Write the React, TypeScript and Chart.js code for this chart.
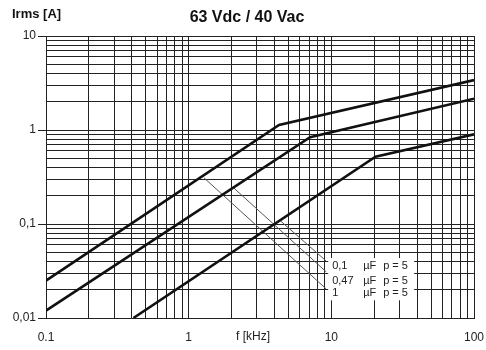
import React, { useEffect, useRef } from 'react';
import { Chart, registerables } from 'chart.js';

Chart.register(...registerables);

// ---- data ----
const curve1uF = [
  { x: 0.1, y: 0.025 },
  { x: 4.3, y: 1.13 },
  { x: 100, y: 3.4 },
];
const curve047uF = [
  { x: 0.1, y: 0.012 },
  { x: 7.1, y: 0.84 },
  { x: 100, y: 2.15 },
];
const curve01uF = [
  { x: 0.41, y: 0.01 },
  { x: 20.4, y: 0.52 },
  { x: 100, y: 0.9 },
];
const leader1uF = [
  { x: 1.28, y: 0.31 },
  { x: 9.2, y: 0.0204 },
];
const leader047uF = [
  { x: 2.05, y: 0.245 },
  { x: 9.2, y: 0.031 },
];
const leader01uF = [
  { x: 4.4, y: 0.108 },
  { x: 9.2, y: 0.0404 },
];
const labelCaps = ['0,1', '0,47', '1'];
const labelUnit = 'µF';
const labelPitch = 'p = 5';
const labelY = [0.0357, 0.0248, 0.0183];
const labelX = 9.2;

const xDecades = [0.1, 1, 10, 100];
const xDecadeLabels = ['0.1', '1', '10', '100'];
const yDecades = [0.01, 0.1, 1, 10];
const yDecadeLabels = ['0,01', '0,1', '1', '10'];

const titleText = '63 Vdc / 40 Vac';
const yTitleText = 'Irms [A]';
const xTitleText = 'f [kHz]';

const FONT = '"Liberation Sans", Arial, Helvetica, sans-serif';
const GRID = '#222';

function logTicks(decades: number[], labels: string[]) {
  const out: any[] = [];
  for (let d = 0; d < decades.length; d++) {
    const base = decades[d];
    out.push({ value: base, lab: labels[d] });
    if (d < decades.length - 1) {
      for (let m = 2; m <= 9; m++) out.push({ value: base * m, lab: '' });
    }
  }
  return out;
}

const textPlugin = {
  id: 'texts',
  beforeDatasetsDraw(chart: any) {
    const { ctx, scales } = chart;
    const xs = scales.x;
    const ys = scales.y;
    const ex = xs.getPixelForValue(labelX);
    const top = ys.getPixelForValue(labelY[0]) - 8;
    const bot = ys.getPixelForValue(labelY[2]) + 7;
    ctx.save();
    ctx.fillStyle = '#ffffff';
    ctx.fillRect(ex + 2, top, 86, bot - top);
    ctx.restore();
  },
  afterDraw(chart: any) {
    const { ctx, scales } = chart;
    const xs = scales.x;
    const ys = scales.y;
    ctx.save();
    ctx.fillStyle = '#111';
    ctx.textBaseline = 'middle';
    ctx.font = `bold 16px ${FONT}`;
    ctx.textAlign = 'center';
    ctx.fillText(titleText, 247, 18);
    ctx.font = `bold 13px ${FONT}`;
    ctx.textAlign = 'left';
    ctx.fillText(yTitleText, 12, 14);
    ctx.font = `12px ${FONT}`;
    ctx.textAlign = 'center';
    ctx.fillStyle = '#222';
    ctx.fillText(xTitleText, 253, 336.5);

    const ex = xs.getPixelForValue(labelX);
    ctx.textAlign = 'left';
    ctx.font = `11px ${FONT}`;
    for (let i = 0; i < labelCaps.length; i++) {
      const py = ys.getPixelForValue(labelY[i]);
      ctx.fillText(labelCaps[i], ex + 6, py);
      ctx.fillText(labelUnit, ex + 37, py);
      ctx.fillText(labelPitch, ex + 57, py);
    }
    ctx.restore();
  },
};

export default function App() {
  const ref = useRef<HTMLCanvasElement | null>(null);

  useEffect(() => {
    if (!ref.current) return;
    const thick = { borderColor: '#111', borderWidth: 2.6, pointRadius: 0, tension: 0, fill: false };
    const thin = { borderColor: '#555', borderWidth: 1, pointRadius: 0, tension: 0, fill: false };
    const chart = new Chart(ref.current, {
      type: 'line',
      data: {
        datasets: [
          { label: '1 µF', data: curve1uF, ...thick },
          { label: '0,47 µF', data: curve047uF, ...thick },
          { label: '0,1 µF', data: curve01uF, ...thick },
          { label: 'l1', data: leader1uF, ...thin },
          { label: 'l047', data: leader047uF, ...thin },
          { label: 'l01', data: leader01uF, ...thin },
        ],
      },
      options: {
        animation: false,
        responsive: true,
        maintainAspectRatio: false,
        layout: { padding: { top: 36, right: 12, left: 0, bottom: 0 } },
        plugins: { legend: { display: false }, title: { display: false }, tooltip: { enabled: false } },
        scales: {
          x: {
            type: 'logarithmic',
            min: 0.1,
            max: 100,
            afterBuildTicks: (s: any) => {
              s.ticks = logTicks(xDecades, xDecadeLabels);
            },
            afterFit: (s: any) => {
              s.height = 32;
              s.paddingLeft = 0;
              s.paddingRight = 0;
            },
            border: { display: true, color: GRID, width: 1 },
            grid: { color: GRID, lineWidth: 1, drawTicks: false },
            ticks: {
              autoSkip: false,
              maxRotation: 0,
              padding: 12,
              color: '#222',
              font: { family: FONT, size: 12 },
              callback: (_v: any, i: number, t: any[]) => t[i].lab,
            },
          },
          y: {
            type: 'logarithmic',
            min: 0.01,
            max: 10,
            afterBuildTicks: (s: any) => {
              s.ticks = logTicks(yDecades, yDecadeLabels);
            },
            afterFit: (s: any) => {
              s.width = 46;
              s.paddingTop = 0;
              s.paddingBottom = 0;
            },
            border: { display: true, color: GRID, width: 1 },
            grid: {
              color: GRID,
              lineWidth: 1,
              drawTicks: true,
              tickLength: 8,
              tickColor: (c: any) => (c.tick && c.tick.lab ? GRID : 'rgba(0,0,0,0)'),
            },
            ticks: {
              autoSkip: false,
              padding: 2,
              color: '#222',
              font: { family: FONT, size: 12 },
              callback: (_v: any, i: number, t: any[]) => t[i].lab,
            },
          },
        },
      },
      plugins: [textPlugin],
    } as any);
    return () => chart.destroy();
  }, []);

  return (
    <div style={{ position: 'fixed', left: 0, top: 0, width: 486, height: 350, background: '#fff' }}>
      <canvas ref={ref} />
    </div>
  );
}
